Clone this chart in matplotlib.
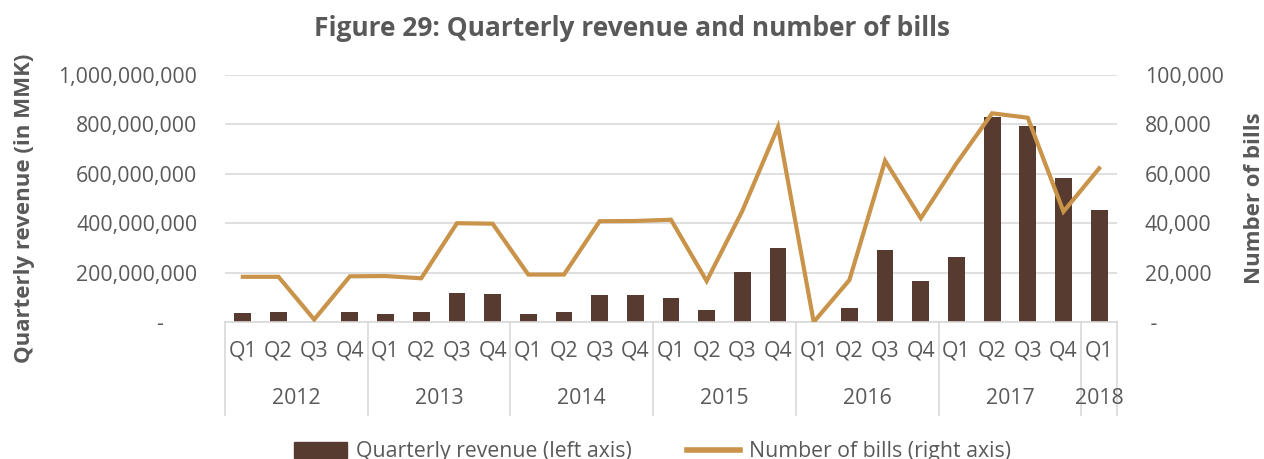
import matplotlib.pyplot as plt
from matplotlib.patches import Patch
from matplotlib.lines import Line2D
from matplotlib.ticker import FuncFormatter

plt.rcParams['font.family'] = ['Open Sans', 'DejaVu Sans']

years = ["2012", "2013", "2014", "2015", "2016", "2017", "2018"]
quarters = ["Q1", "Q2", "Q3", "Q4"] * 6 + ["Q1"]
quarters_per_year = [4, 4, 4, 4, 4, 4, 1]

# quarterly revenue in MMK (left axis)
revenue = [35e6, 39e6, 0, 39e6,
           34e6, 39e6, 116e6, 112e6,
           34e6, 39e6, 108e6, 108e6,
           98e6, 47e6, 201e6, 300e6,
           0, 57e6, 292e6, 165e6,
           262e6, 830e6, 794e6, 583e6,
           455e6]
# number of bills (right axis)
bills = [18300, 18300, 1000, 18500,
         18600, 17700, 40000, 39800,
         19200, 19200, 40800, 40900,
         41400, 16600, 45000, 79000,
         0, 17000, 65300, 42000,
         64200, 84500, 82700, 44700,
         62200]

bar_color = "#573B30"
line_color = "#C9934A"
text_color = "#595959"
grid_color = "#D9D9D9"
fs = 15.3

fig = plt.figure(figsize=(12.64, 4.59), dpi=100)
ax = fig.add_axes([225 / 1264, 1 - 322 / 459, (1117 - 225) / 1264, (322 - 75) / 459])
ax2 = ax.twinx()

x = list(range(len(revenue)))
ax.bar(x, revenue, width=0.47, color=bar_color, zorder=2)
ax2.plot(x, bills, color=line_color, linewidth=3, solid_joinstyle="miter", zorder=3)

ax.set_xlim(-0.5, len(x) - 0.5)
ax.set_ylim(0, 1e9)
ax2.set_ylim(0, 100000)
ax.set_yticks([i * 2e8 for i in range(6)])
ax2.set_yticks([i * 20000 for i in range(6)])

ax.yaxis.set_major_formatter(FuncFormatter(lambda v, p: "-      " if v == 0 else f"{v:,.0f}"))
ax2.yaxis.set_major_formatter(FuncFormatter(lambda v, p: " -" if v == 0 else f"{v:,.0f}"))

ax.grid(axis="y", color=grid_color, linewidth=1.2, zorder=0)
ax.set_axisbelow(True)
for a in (ax, ax2):
    for s in a.spines.values():
        s.set_visible(False)
ax.spines["bottom"].set_visible(True)
ax.spines["bottom"].set_color(grid_color)
ax.spines["bottom"].set_linewidth(1.2)

ax.tick_params(axis="y", length=0, pad=20, labelsize=fs, labelcolor=text_color)
ax2.tick_params(axis="y", length=0, pad=20, labelsize=fs, labelcolor=text_color)

ax.set_xticks(x)
ax.set_xticklabels(quarters)
ax.tick_params(axis="x", length=0, pad=13, labelsize=fs, labelcolor=text_color)

# year group labels and separators
trans = ax.get_xaxis_transform()
low = -(415 - 322) / (322 - 75)
start = -0.5
ax.plot([start, start], [0, low], color=grid_color, lw=1.2, transform=trans, clip_on=False)
for yr, n in zip(years, quarters_per_year):
    end = start + n
    ax.plot([end, end], [0, low], color=grid_color, lw=1.2, transform=trans, clip_on=False)
    ax.text((start + end) / 2, -(399 - 322) / (322 - 75), yr, transform=trans,
            ha="center", va="center", fontsize=fs, color=text_color)
    start = end

fig.text(25 / 1264, 1 - 208 / 459, "Quarterly revenue (in MMK)", rotation=90,
         ha="center", va="center", fontsize=16, fontweight="bold", color=text_color)
fig.text(1254 / 1264, 1 - 198 / 459, "Number of bills", rotation=90,
         ha="center", va="center", fontsize=16, fontweight="bold", color=text_color)

fig.text(0.5, 1 - 28 / 459, "Figure 29: Quarterly revenue and number of bills",
         ha="center", va="center", fontsize=19, fontweight="bold", color=text_color)

handles = [Patch(color=bar_color), Line2D([0], [0], color=line_color, lw=4)]
fig.legend(handles, ["Quarterly revenue (left axis)", "Number of bills (right axis)"],
           loc="center", bbox_to_anchor=(0.516, 1 - 452 / 459), ncol=2, frameon=False,
           fontsize=fs, labelcolor=text_color, handlelength=2.5, handleheight=0.75,
           handletextpad=0.42, columnspacing=2.6, borderpad=0)

fig.savefig("out.png", dpi=100)
